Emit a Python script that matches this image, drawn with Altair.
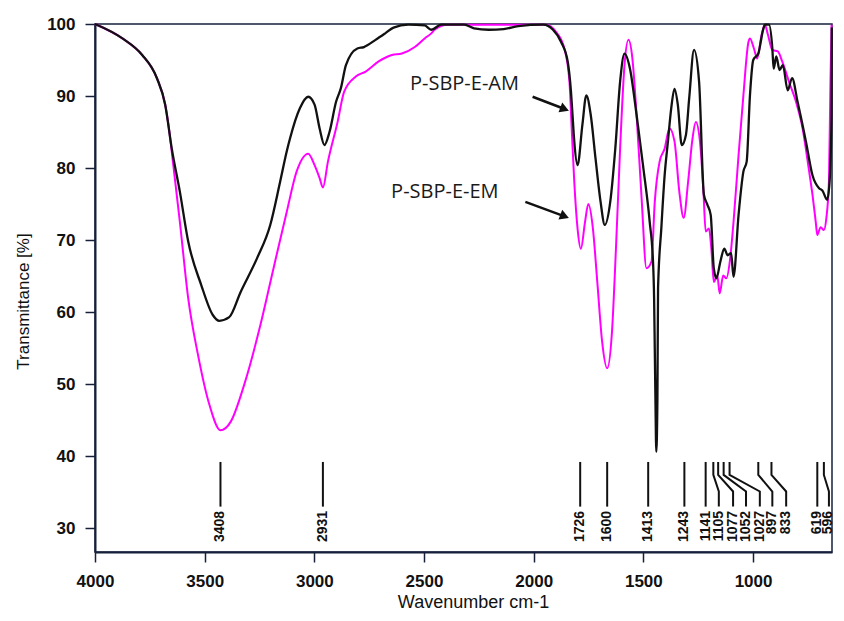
import altair as alt
import pandas as pd

# ---- spectra (wavenumber axis units, transmittance %) ----
am_wn = [4000,3875,3785,3718,3680,3650,3613,3575,3516,3463,3433,3388,3336,3261,3201,3156,3126,3111,3066,3028,
         2999,2976,2954,2931,2901,2879,2856,2804,2774,2721,2677,2639,2572,2497,2467,2422,2317,2272,2205,2137,
         2070,1957,1912,1875,1845,1830,1823,1815,1800,1778,1760,1740,1718,1695,1676,1651,1628,1606,1586,1561,
         1531,1500,1471,1456,1451,1448,1445,1441,1436,1433,1418,1403,1388,1373,1358,1343,1325,1306,1291,1269,
         1246,1224,1208,1193,1179,1167,1149,1131,1116,1100,1089,1066,1044,1029,1014,999,976,954,946,927,
         912,906,894,879,864,842,822,797,759,729,699,684,662,651,642,641]
am_t = [100,98.0,95.7,92.5,88.8,82.7,76.7,69.8,63.8,59.6,58.8,59.3,62.8,67.5,72.1,78.1,82.3,84.1,88.3,89.9,
        88.8,85.5,83.2,85.0,89.2,91.1,94.3,96.6,96.8,97.8,98.7,99.5,99.9,99.8,99.2,99.9,99.9,99.4,99.2,99.3,
        99.7,99.9,99.2,97.5,94.8,90.6,87.4,83.7,80.4,86.0,90.1,87.4,81.3,75.3,72.1,75.3,82.7,92.0,95.9,93.8,
        87.4,80.0,72.5,67.0,61.9,55.0,48.0,40.6,47.8,63.3,71.7,79.0,83.7,88.3,91.0,88.8,83.2,84.6,89.7,96.4,
        92.0,76.3,74.9,73.5,66.1,64.7,67.0,68.8,67.9,68.2,64.9,73.5,79.5,80.9,90.1,95.0,95.9,99.2,99.9,99.9,
        96.6,93.8,95.5,93.6,94.3,90.8,92.5,89.2,83.7,79.0,77.2,76.9,75.6,78.1,87.4,99.5]

em_wn = [4000,3875,3785,3718,3680,3665,3643,3613,3575,3530,3478,3428,3381,3320,3246,3186,3126,3081,3028,2999,
         2976,2961,2938,2894,2864,2811,2766,2707,2646,2601,2542,2497,2467,2452,2392,2272,1943,1898,1860,1837,
         1826,1815,1800,1785,1766,1751,1730,1710,1688,1665,1643,1625,1606,1586,1568,1550,1531,1508,1486,1463,
         1448,1426,1403,1381,1358,1336,1316,1296,1276,1261,1242,1226,1216,1201,1190,1179,1163,1152,1136,1122,
         1104,1089,1066,1044,1021,1014,996,981,961,946,932,912,887,867,834,804,774,744,729,714,
         707,692,677,666,654,647,642]
em_t = [100,98.0,95.7,92.5,88.8,86.0,80.4,72.5,61.9,54.0,47.1,43.6,44.8,49.9,58.2,66.1,73.9,79.5,82.0,80.4,
        78.6,77.3,80.9,86.4,90.6,92.7,93.4,94.8,95.7,95.9,96.8,98.0,98.7,99.2,99.9,99.9,99.9,98.9,96.6,92.0,
        85.0,78.1,71.6,68.8,72.5,75.0,71.6,64.2,55.9,52.2,57.3,68.8,82.7,94.3,97.8,95.2,87.4,75.8,66.1,67.0,
        75.3,80.9,82.7,85.5,83.7,76.7,73.1,78.1,84.1,86.4,83.7,76.7,71.2,71.6,68.8,64.2,65.1,62.6,65.1,64.7,
        67.5,72.5,81.8,90.1,97.5,98.0,96.6,95.2,98.5,99.9,98.5,96.4,96.2,94.8,91.8,89.2,85.5,79.5,76.3,72.5,
        70.7,71.8,71.4,73.0,78.1,92.0,99.9]

# ---- peak labels (text, line position at top / at bottom, text position) ----
peak_text = ["3408","2931","1726","1600","1413","1243","1141","1105","1077","1052","1027","897","833","619","596"]
peak_top = [3428,2961,1788,1665,1478,1313,1216,1181,1159,1134,1107,976,916,707,677]
peak_bot = [3428,2961,1788,1665,1478,1313,1216,1156,1091,1032,969,912,849,707,654]
peak_txt = [3428,2961,1788,1665,1478,1313,1216,1156,1091,1032,969,912,849,707,660]
leader_levels = [39.2, 37.4, 35.1, 33.0]
label_level = 32.4

# ---- series annotations ----
series_names = ["P-SBP-E-AM", "P-SBP-E-EM"]
name_wn = [2564, 2650]
name_t = [90.8, 75.8]
arrow_wn = [2005, 2038]
arrow_t = [89.9, 75.3]
head_wn = [1859, 1859]
head_t = [88.2, 73.3]

x_ticks = [4000, 3500, 3000, 2500, 2000, 1500, 1000]
y_ticks = [30, 40, 50, 60, 70, 80, 90, 100]

NAVY = "#16203a"
FONT = "Liberation Sans"

am_df = pd.DataFrame({"wn": am_wn, "t": am_t, "seq": range(len(am_wn))})
em_df = pd.DataFrame({"wn": em_wn, "t": em_t, "seq": range(len(em_wn))})

rows = []
for lab, a, b in zip(peak_text, peak_top, peak_bot):
    pts = [a, a, b, b]
    for i, (w, lv) in enumerate(zip(pts, leader_levels)):
        rows.append({"label": lab, "wn": w, "t": lv, "seq": i})
leader_df = pd.DataFrame(rows)
ptext_df = pd.DataFrame({"label": peak_text, "wn": peak_txt, "t": [label_level] * len(peak_text)})

names_df = pd.DataFrame({"name": series_names, "wn": name_wn, "t": name_t})
arrows_df = pd.DataFrame({"wn": arrow_wn, "t": arrow_t, "wn2": head_wn, "t2": head_t})
heads_df = pd.DataFrame({"wn": head_wn, "t": head_t})

xscale = alt.Scale(domain=[4000, 640], nice=False, zero=False)
yscale = alt.Scale(domain=[26.7, 100], nice=False, zero=False)

xaxis = alt.Axis(values=x_ticks, format="d", grid=False, tickSize=10, tickWidth=1.5,
                 tickColor=NAVY, domainColor=NAVY, domainWidth=2,
                 labelFont=FONT, labelFontSize=17, labelFontWeight="bold", labelColor="#111111",
                 labelPadding=11, labelFlush=False,
                 title="Wavenumber cm-1", titleFont=FONT, titleFontSize=18, titleFontWeight="normal",
                 titleColor="#111111", titleX=378, titleY=50, titleBaseline="middle")
yaxis = alt.Axis(values=y_ticks, format="d", grid=False, tickSize=10, tickWidth=1.5,
                 tickColor=NAVY, domainColor=NAVY, domainWidth=2,
                 labelFont=FONT, labelFontSize=17, labelFontWeight="bold", labelColor="#111111",
                 labelPadding=10,
                 title="Transmittance [%]", titleFont=FONT, titleFontSize=17, titleFontWeight="normal",
                 titleColor="#111111", titleX=-72, titleY=277, titleBaseline="middle")

X = alt.X("wn:Q", scale=xscale, axis=xaxis)
Y = alt.Y("t:Q", scale=yscale, axis=yaxis)

em_line = alt.Chart(em_df).mark_line(color="#ff00ff", strokeWidth=2, interpolate="monotone").encode(
    x=X, y=Y, order="seq:Q")
am_line = alt.Chart(am_df).mark_line(color="#111111", strokeWidth=2.3, interpolate="monotone").encode(
    x=X, y=Y, order="seq:Q")

leaders = alt.Chart(leader_df).mark_line(color="#111111", strokeWidth=2).encode(
    x=X, y=Y, detail="label:N", order="seq:Q")
ptexts = alt.Chart(ptext_df).mark_text(angle=270, align="right", baseline="middle", font=FONT,
                                       fontSize=14, fontWeight="bold", color="#111111").encode(
    x=X, y=Y, text="label:N")

names = alt.Chart(names_df).mark_text(align="left", baseline="alphabetic", font="Open Sans",
                                      fontSize=20, color="#1a1a1a").encode(x=X, y=Y, text="name:N")
shafts = alt.Chart(arrows_df).mark_rule(color="#111111", strokeWidth=2.5).encode(
    x=X, y=Y, x2="wn2:Q", y2="t2:Q")
heads = alt.Chart(heads_df).mark_point(shape="triangle-right", filled=True, size=110, angle=21,
                                      color="#111111", opacity=1).encode(x=X, y=Y)

chart = alt.layer(em_line, am_line, leaders, ptexts, shafts, heads, names).properties(
    width=737, height=528,
    autosize=alt.AutoSizeParams(type="none"),
    padding={"left": 87, "top": 16, "right": 4, "bottom": 61},
).configure_view(stroke=NAVY, strokeWidth=1.5)

chart.save("out.html", embed_options={"renderer": "svg", "actions": False})
